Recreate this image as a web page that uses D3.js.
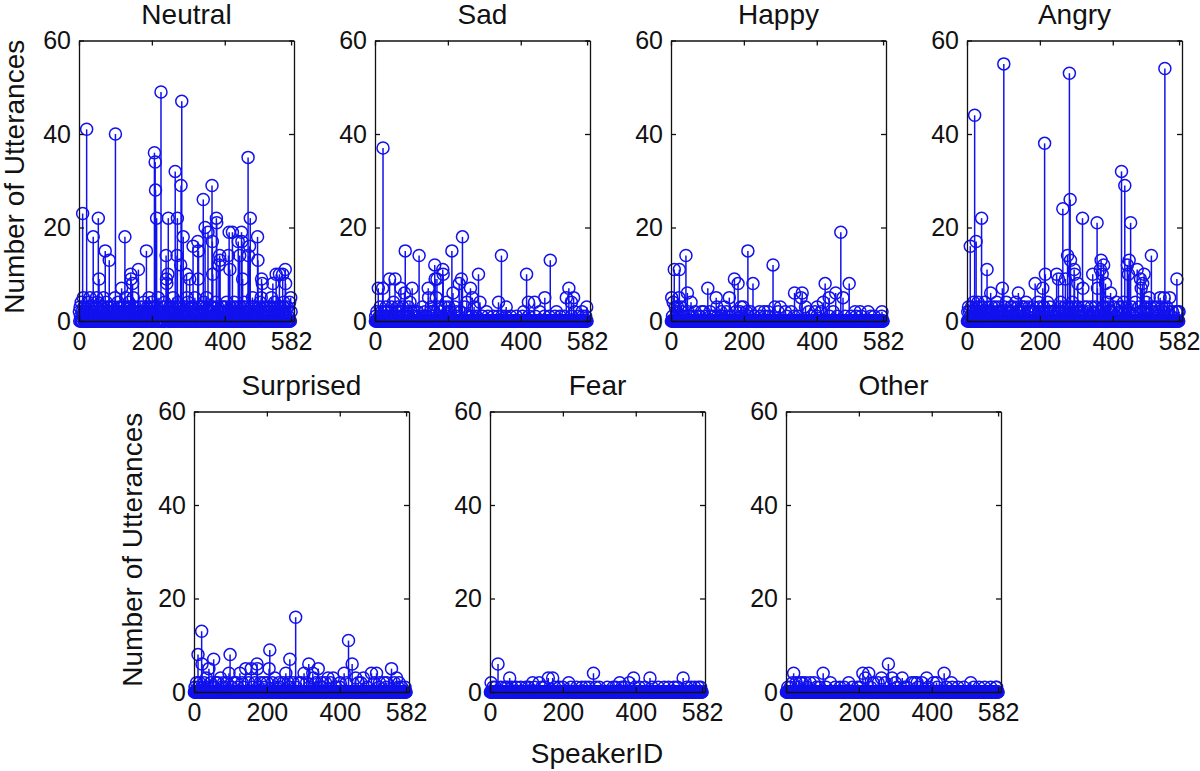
<!DOCTYPE html>
<html>
<head>
<meta charset="utf-8">
<style>
  html, body { margin: 0; background: #fff; }
  text { font-family: "Liberation Sans", Arial, sans-serif; fill: #111; }
</style>
<script src="https://d3js.org/d3.v7.min.js"></script>
</head>
<body>
<script>
var w = 1200;
var h = 771;

var speakerCount = 582;
var xMax = 590;
var xTicks = [0, 200, 400, 582];
var yTicks = [0, 20, 40, 60];

// tall stems: [speaker, utterances]
var neutralPeaks = [[10,23],[21,41],[39,18],[53,22],[55,9],[72,15],[83,13],[100,40],[126,18],[117,7],[142,10],[143,9],[147,8],[163,11],[185,15],[207,36],[209,34],[210,28],[213,22],[225,49],[245,22],[239,14],[244,10],[240,9],[241,8],[264,32],[270,22],[269,14],[280,29],[282,47],[286,18],[279,12],[295,10],[304,9],[313,16],[326,17],[328,15],[327,9],[341,26],[346,20],[354,19],[365,29],[366,17],[367,10],[377,22],[378,21],[386,14],[387,13],[384,12],[410,14],[414,11],[412,19],[421,19],[446,19],[437,17],[447,17],[441,14],[449,9],[464,35],[470,22],[468,16],[465,14],[490,18],[491,13],[501,9],[503,8],[532,8],[541,10],[550,10],[559,10],[566,11],[567,8]];
var sadPeaks = [[9,7],[22,37],[21,7],[40,9],[55,9],[51,4],[71,7],[83,15],[81,6],[121,14],[102,7],[96,4],[146,7],[147,5],[164,12],[186,11],[187,10],[170,9],[165,9],[211,15],[214,6],[240,18],[237,9],[231,8],[262,7],[252,4],[267,5],[284,10],[288,4],[347,14],[339,4],[360,3],[416,10],[421,4],[438,4],[466,5],[481,13],[532,7],[525,5],[545,5],[539,4],[581,3],[196,4],[168,5]];
var happyPeaks = [[2,5],[6,4],[9,11],[23,11],[22,5],[41,14],[45,6],[55,4],[101,7],[124,5],[126,3],[147,3],[160,5],[174,9],[184,8],[211,15],[225,8],[280,12],[285,3],[300,3],[339,6],[360,6],[357,5],[369,3],[401,3],[418,4],[423,8],[434,5],[452,6],[472,5],[466,19],[489,8],[541,2],[579,2]];
var angryPeaks = [[9,16],[21,44],[25,17],[40,22],[55,11],[65,6],[101,55],[97,7],[141,6],[187,8],[213,38],[215,10],[208,7],[246,10],[263,24],[251,9],[270,9],[276,14],[284,13],[283,26],[281,53],[294,11],[295,10],[304,8],[317,22],[318,7],[345,10],[357,21],[368,13],[366,11],[375,12],[371,10],[380,8],[358,7],[394,6],[424,32],[433,29],[445,13],[440,12],[449,21],[443,10],[467,11],[476,9],[482,8],[478,7],[486,10],[506,14],[500,5],[543,54],[530,5],[541,5],[556,5],[576,9],[582,2]];
var surprisedPeaks = [[11,8],[21,13],[22,6],[41,5],[54,7],[34,3],[73,3],[99,8],[96,4],[126,4],[142,5],[157,5],[173,6],[174,5],[208,9],[206,5],[222,3],[252,4],[263,7],[279,16],[302,4],[315,6],[326,4],[341,5],[327,3],[368,3],[382,3],[412,4],[424,11],[434,6],[444,3],[465,3],[487,4],[501,4],[529,2],[542,5],[556,3]];
var fearPeaks = [[3,2],[22,6],[54,3],[117,2],[135,2],[160,3],[172,3],[216,2],[284,4],[356,2],[382,2],[394,3],[439,3],[530,3]];
var otherPeaks = [[21,4],[18,2],[39,2],[53,2],[66,2],[102,4],[172,2],[211,4],[227,4],[218,3],[262,3],[281,6],[291,3],[319,3],[360,2],[386,3],[413,2],[434,4],[507,2],[578,1]];

// low stems that merge into the band: speakers with that many utterances
var neutralFives = [12,30,48,67,99,128,149,192,217,258,296,318,350,388,420,476,500,528,581];
var neutralFours = [6,25,50,75,107,137,178,199,235,272,299,343,375,405,426,453,497,537,562,578];
var neutralThrees = [3,13,28,35,46,63,69,78,88,95,110,123,132,140,150,155,167,176,188,196,205,215,231,237,249,256,267,274,288,297,307,319,331,338,349,363,370,381,393,397,403,416,424,431,443,451,456,473,481,495,506,515,523,531,545,553,560,572];
var neutralTwos = [1,8,15,19,23,32,40,44,59,68,77,81,91,98,105,108,115,130,135,145,160,165,170,180,187,191,201,211,219,223,233,243,247,251,261,278,284,293,302,311,324,333,340,345,353,359,368,379,388,395,408,420,428,439,455,461,471,478,486,493,499,508,517,525,534,539,549,558,565,575,582];
var neutralOnes = [4,11,26,37,47,51,62,73,85,94,111,118,124,138,148,153,162,174,182,195,208,227,238,254,265,281,291,300,314,329,347,355,373,385,399,411,422,435,444,462,474,489,504,510,521,529,543,552,568,574];

var sadThrees = [14,30,46,62,76,92,112,130,154,174,192,203,219,246,272];
var sadTwos = [5,18,26,35,44,58,66,74,89,99,107,116,137,152,160,180,199,207,223,235,255,278,306,372,408,452,498,548,568];
var sadOnes = [2,12,24,33,42,49,61,68,78,86,93,104,112,122,132,140,155,175,187,198,214,225,240,255,266,278,295,310,325,338,348,358,372,388,405,422,440,465,478,494,508,520,540,558,570,578];

var happyThrees = [12,18,28,192,198];
var happyTwos = [15,32,47,66,84,90,107,118,137,152,178,189,207,218,243,256,266,294,314,330,378,395,412,445,505,519];
var happyOnes = [4,14,26,36,50,58,70,78,95,108,118,128,140,155,165,194,212,228,245,258,268,300,318,338,348,385,400,435,456,478,495,508,522,548,558,578];

var angryFours = [18,30,49,82,108,134,162,195,221,257,289,310,334,385,410,430,462,492];
var angryThrees = [4,12,27,35,42,58,68,76,86,103,120,127,140,152,158,170,182,199,211,227,241,255,267,279,287,298,306,322,330,341,353,373,377,389,403,418,426,438,452,472,490,503,513,523,535,548,560];
var angryTwos = [2,7,15,23,32,38,47,52,62,66,71,84,89,94,109,117,124,130,137,145,155,165,174,180,188,197,206,217,223,231,237,249,260,272,292,302,312,320,332,347,361,383,391,397,408,422,434,458,474,484,495,509,519,527,539,553,564,574,579];
var angryOnes = [10,29,55,74,98,110,130,148,166,198,226,241,261,310,334,350,376,408,440,458,482,525,542,560,576];

var surprisedTwos = [7,15,28,46,60,66,81,91,109,117,132,150,167,182,192,201,215,233,245,258,272,287,294,309,334,350,361,375,390,401,418,451,458,476,495,509,521,550,563];
var surprisedOnes = [3,12,25,38,50,76,85,102,120,136,160,176,194,225,236,262,280,316,340,352,390,400,434,465,476,508,528,560,570,579];

var fearOnes = [8,15,30,42,48,60,72,84,98,106,122,142,150,178,190,200,222,238,252,262,272,290,300,322,338,345,362,370,398,410,425,445,462,478,490,505,515,530,540,552,562,572,578];
var otherTwos = [28,44,77,122,239,253,272,300,345,353,373,405,454];
var otherOnes = [5,12,34,58,84,92,110,135,148,160,182,196,204,232,262,305,325,332,362,390,415,440,456,472,488,515,530,545,562,576];

var categories = [
  {name: "Neutral", peaks: neutralPeaks, low: [[5, neutralFives], [4, neutralFours], [3, neutralThrees], [2, neutralTwos], [1, neutralOnes]], left: 79, top: 40.5, yLabelX: -55, yLabelY: -4},
  {name: "Sad", peaks: sadPeaks, low: [[3, sadThrees], [2, sadTwos], [1, sadOnes]], left: 375, top: 40.5},
  {name: "Happy", peaks: happyPeaks, low: [[3, happyThrees], [2, happyTwos], [1, happyOnes]], left: 671, top: 40.5},
  {name: "Angry", peaks: angryPeaks, low: [[4, angryFours], [3, angryThrees], [2, angryTwos], [1, angryOnes]], left: 967, top: 40.5},
  {name: "Surprised", peaks: surprisedPeaks, low: [[2, surprisedTwos], [1, surprisedOnes]], left: 194, top: 411.5, yLabelX: -52, yLabelY: -2},
  {name: "Fear", peaks: fearPeaks, low: [[1, fearOnes]], left: 490, top: 411.5},
  {name: "Other", peaks: otherPeaks, low: [[2, otherTwos], [1, otherOnes]], left: 786, top: 411.5}
];

var plotW = 215;
var plotH = 280.5;
var blue = "#1212ee";

var svg = d3.select("body")
            .append("svg")
            .attr("width", w)
            .attr("height", h);

var x = d3.scaleLinear().domain([0, xMax]).range([0, plotW]);
var y = d3.scaleLinear().domain([0, 60]).range([plotH, 0]);

categories.forEach(function(cat) {
  var counts = new Map();
  cat.low.forEach(function(group) {
    group[1].forEach(function(id) { counts.set(id, group[0]); });
  });
  cat.peaks.forEach(function(p) { counts.set(p[0], p[1]); });

  var points = d3.range(1, speakerCount + 1).map(function(id) {
    return {id: id, n: counts.get(id) || 0};
  });

  var g = svg.append("g").attr("transform", "translate(" + cat.left + "," + cat.top + ")");

  //stems
  g.selectAll("line.stem")
   .data(points.filter(function(d) { return d.n > 0; }))
   .enter()
   .append("line")
   .attr("class", "stem")
   .attr("x1", function(d) { return x(d.id); })
   .attr("x2", function(d) { return x(d.id); })
   .attr("y1", y(0))
   .attr("y2", function(d) { return y(d.n); })
   .style("stroke", blue)
   .style("stroke-width", 1.5);

  //markers
  g.selectAll("circle")
   .data(points)
   .enter()
   .append("circle")
   .attr("cx", function(d) { return x(d.id); })
   .attr("cy", function(d) { return y(d.n); })
   .attr("r", 6)
   .style("fill", "none")
   .style("stroke", blue)
   .style("stroke-width", 1.5);

  //box and ticks, mirrored on the far sides like matlab
  var bottom = d3.axisBottom(x).tickValues(xTicks).tickSize(-5).tickSizeOuter(0).tickPadding(11).tickFormat(d3.format("d"));
  var left = d3.axisLeft(y).tickValues(yTicks).tickSize(-5).tickSizeOuter(0).tickPadding(8);
  var topAxis = d3.axisTop(x).tickValues(xTicks).tickSize(-5).tickSizeOuter(0).tickFormat("");
  var right = d3.axisRight(y).tickValues(yTicks).tickSize(-5).tickSizeOuter(0).tickFormat("");

  g.append("g").attr("transform", "translate(0," + plotH + ")").call(bottom);
  g.append("g").call(left);
  g.append("g").call(topAxis);
  g.append("g").attr("transform", "translate(" + plotW + ",0)").call(right);

  g.selectAll(".domain, .tick line").style("stroke", "#111").style("stroke-width", 1.3);
  g.selectAll(".tick text").style("font-size", "25px").style("font-family", "'Liberation Sans', Arial, sans-serif").style("fill", "#111");

  g.append("text")
   .attr("x", plotW / 2)
   .attr("y", -17)
   .attr("text-anchor", "middle")
   .style("font-size", "28px")
   .text(cat.name);

  if (cat.yLabelX) {
    g.append("text")
     .attr("transform", "translate(" + cat.yLabelX + "," + (plotH / 2 + cat.yLabelY) + ") rotate(-90)")
     .attr("text-anchor", "middle")
     .style("font-size", "28px")
     .text("Number of Utterances");
  }
});

svg.append("text")
   .attr("x", 597)
   .attr("y", 763)
   .attr("text-anchor", "middle")
   .style("font-size", "28px")
   .text("SpeakerID");
</script>
</body>
</html>
